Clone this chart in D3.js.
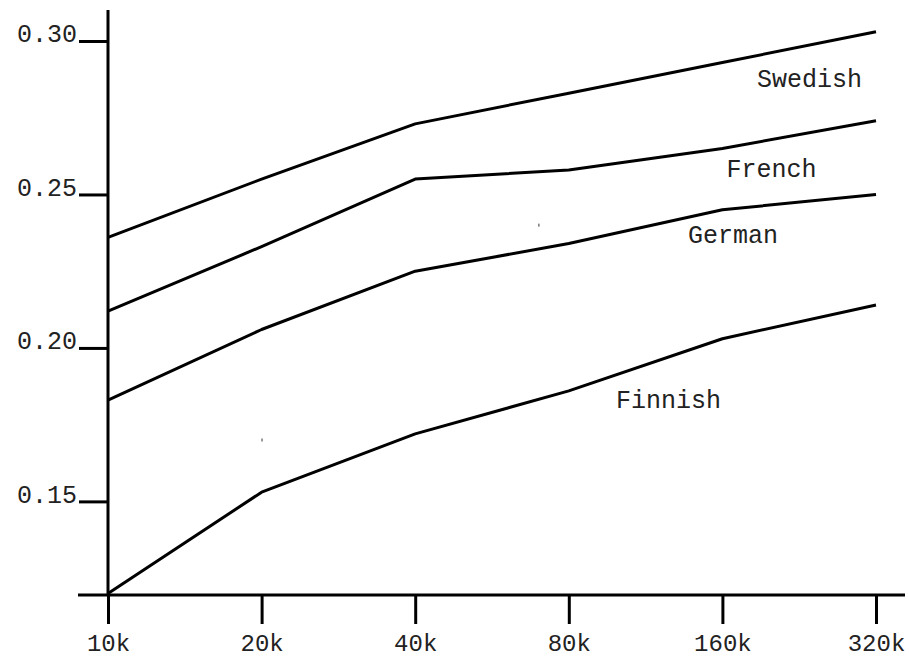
<!DOCTYPE html>
<html>
<head>
<meta charset="utf-8">
<script src="https://cdn.jsdelivr.net/npm/d3@7"></script>
<style>
  body { margin: 0; background: #fff; }
  svg { display: block; }
  .axis line, .axis path { stroke: #000; }
</style>
</head>
<body>
<div id="chart"></div>
<script>
// training size (k) on a log2 axis
var sizes = [10, 20, 40, 80, 160, 320];
var sizeLabels = ["10k", "20k", "40k", "80k", "160k", "320k"];
var yTicks = [0.15, 0.20, 0.25, 0.30];

var swedish = [0.236, 0.255, 0.273, 0.283, 0.293, 0.303];
var french  = [0.212, 0.233, 0.255, 0.258, 0.265, 0.274];
var german  = [0.183, 0.206, 0.225, 0.234, 0.245, 0.250];
var finnish = [0.120, 0.153, 0.172, 0.186, 0.203, 0.214];

var seriesNames = ["Swedish", "French", "German", "Finnish"];
// where each name sits, in data units (size k, value)
var labelSizes  = [187, 163, 137, 99];
var labelValues = [0.285, 0.2557, 0.2342, 0.1805];

var series = [swedish, french, german, finnish].map(function(vals, i) {
  return {
    name: seriesNames[i],
    points: vals.map(function(v, j) { return [sizes[j], v]; }),
    lx: labelSizes[i],
    ly: labelValues[i]
  };
});

var width = 909, height = 658;
var monoFont = "'Courier New', 'Liberation Mono', monospace";
var textColor = "#222";

var x = d3.scaleLog().base(2)
  .domain([10, 320])
  .range([108, 876]);
var y = d3.scaleLinear()
  .domain([0.1195, 0.3101])
  .range([595, 10]);

var svg = d3.select("#chart").append("svg")
  .attr("width", width)
  .attr("height", height);

var tickLen = 29;

// axis lines
svg.append("line")
  .attr("x1", x(10) - 30).attr("x2", x(320) + 29)
  .attr("y1", y.range()[0]).attr("y2", y.range()[0])
  .attr("stroke", "#000").attr("stroke-width", 3);
svg.append("line")
  .attr("x1", x(10)).attr("x2", x(10))
  .attr("y1", y.range()[1]).attr("y2", y.range()[0])
  .attr("stroke", "#000").attr("stroke-width", 3);

// x axis
var xAxis = svg.append("g")
  .attr("class", "axis")
  .attr("transform", "translate(0," + y.range()[0] + ")")
  .call(d3.axisBottom(x)
    .tickValues(sizes)
    .tickFormat(function(d, i) { return sizeLabels[i]; })
    .tickSize(tickLen));
xAxis.select(".domain").remove();
xAxis.selectAll(".tick line").attr("stroke-width", 3);
xAxis.selectAll(".tick text")
  .attr("y", 56)
  .attr("dy", 0)
  .attr("font-family", monoFont)
  .attr("font-size", 24)
  .attr("fill", textColor);

// y axis
var yAxis = svg.append("g")
  .attr("class", "axis")
  .attr("transform", "translate(" + x(10) + ",0)")
  .call(d3.axisLeft(y)
    .tickValues(yTicks)
    .tickFormat(d3.format(".2f"))
    .tickSize(tickLen)
    .tickPadding(2));
yAxis.select(".domain").remove();
yAxis.selectAll(".tick line").attr("stroke-width", 3);
yAxis.selectAll(".tick text")
  .attr("dy", 1)
  .attr("font-family", monoFont)
  .attr("font-size", 25)
  .attr("fill", textColor);

// lines
var line = d3.line()
  .x(function(d) { return x(d[0]); })
  .y(function(d) { return y(d[1]); });

svg.append("g").selectAll("path")
  .data(series)
  .join("path")
  .attr("d", function(d) { return line(d.points); })
  .attr("fill", "none")
  .attr("stroke", "#000")
  .attr("stroke-width", 3)
  .attr("stroke-linejoin", "round");

svg.append("g").selectAll("text")
  .data(series)
  .join("text")
  .attr("x", function(d) { return x(d.lx); })
  .attr("y", function(d) { return y(d.ly); })
  .attr("font-family", monoFont)
  .attr("font-size", 25)
  .attr("fill", textColor)
  .text(function(d) { return d.name; });

// two stray specks present in the original
var specks = [[20.04, 0.170], [69.9, 0.240]];
svg.append("g").selectAll("line")
  .data(specks)
  .join("line")
  .attr("x1", function(d) { return x(d[0]); })
  .attr("x2", function(d) { return x(d[0]); })
  .attr("y1", function(d) { return y(d[1]) - 1.5; })
  .attr("y2", function(d) { return y(d[1]) + 1.5; })
  .attr("stroke", "#333")
  .attr("stroke-width", 1);
</script>
</body>
</html>
